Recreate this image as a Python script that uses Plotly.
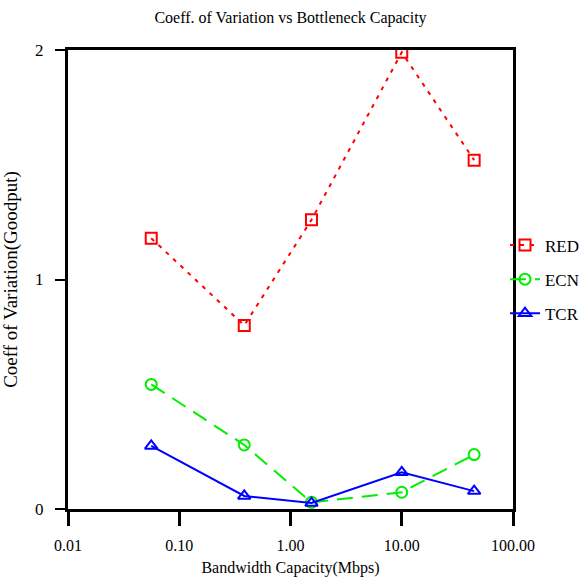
import plotly.graph_objects as go

bandwidth = [0.056, 0.384, 1.544, 10.0, 44.736]
red_cov = [1.18, 0.80, 1.26, 1.99, 1.52]
ecn_cov = [0.543, 0.279, 0.029, 0.073, 0.237]
tcr_cov = [0.275, 0.057, 0.026, 0.160, 0.078]

x_tickvals = [0.01, 0.1, 1, 10, 100]
x_ticktext = ["0.01", "0.10", "1.00", "10.00", "100.00"]
y_tickvals = [0, 1, 2]

ff = "Liberation Serif, Times New Roman, serif"

fig = go.Figure()
fig.add_trace(go.Scatter(
    x=bandwidth, y=red_cov, name="RED", mode="lines+markers", legendgroup="a",
    line=dict(color="#ff0000", width=2, dash="4px,6px"),
    marker=dict(symbol="square-open", size=11, color="#ff0000", line=dict(width=2)),
))
fig.add_trace(go.Scatter(
    x=bandwidth, y=ecn_cov, name="ECN", mode="lines+markers", legendgroup="b",
    line=dict(color="#00ee00", width=2, dash="16px,9px"),
    marker=dict(symbol="circle-open", size=11, color="#00ee00", line=dict(width=2)),
))
fig.add_trace(go.Scatter(
    x=bandwidth, y=tcr_cov, name="TCR", mode="lines+markers", legendgroup="c",
    line=dict(color="#0000ff", width=2),
    marker=dict(symbol="triangle-up-open", size=11, color="#0000ff", line=dict(width=2)),
))

fig.update_layout(
    width=579, height=582,
    margin=dict(l=68, r=66, t=50, b=73, autoexpand=False),
    paper_bgcolor="white", plot_bgcolor="white",
    font=dict(family=ff, size=16, color="black"),
    title=dict(text="Coeff. of Variation vs Bottleneck Capacity", x=0.5, xref="paper",
               y=1 - 17 / 582, yref="container", xanchor="center", yanchor="middle",
               font=dict(family=ff, size=16, color="black")),
    legend=dict(x=0.982, y=0.5, xanchor="left", yanchor="middle",
                tracegroupgap=9, traceorder="grouped",
                font=dict(family=ff, size=17, color="black"), itemwidth=30,
                bgcolor="rgba(0,0,0,0)"),
    xaxis=dict(
        type="log", range=[-2, 2], tickvals=x_tickvals, ticktext=x_ticktext,
        showgrid=False, zeroline=False, showline=True, linecolor="black", linewidth=3,
        mirror=True, ticks="outside", ticklen=14, tickwidth=3, tickcolor="black",
        automargin=False, ticklabelstandoff=6,
        title=dict(text="Bandwidth Capacity(Mbps)", font=dict(family=ff, size=16, color="black"),
                   standoff=9),
        tickfont=dict(family=ff, size=16, color="black"),
    ),
    yaxis=dict(
        range=[0, 2], tickvals=y_tickvals,
        showgrid=False, zeroline=False, showline=True, linecolor="black", linewidth=3,
        mirror=True, ticks="outside", ticklen=10, tickwidth=2, tickcolor="black",
        automargin=False, ticklabelstandoff=8,
        title=dict(text="Coeff of Variation(Goodput)", font=dict(family=ff, size=19, color="black"),
                   standoff=17),
        tickfont=dict(family=ff, size=17, color="black"),
    ),
)

fig.write_html("out.html", config={"displayModeBar": False},
               post_script="document.body.style.margin='0px';")
